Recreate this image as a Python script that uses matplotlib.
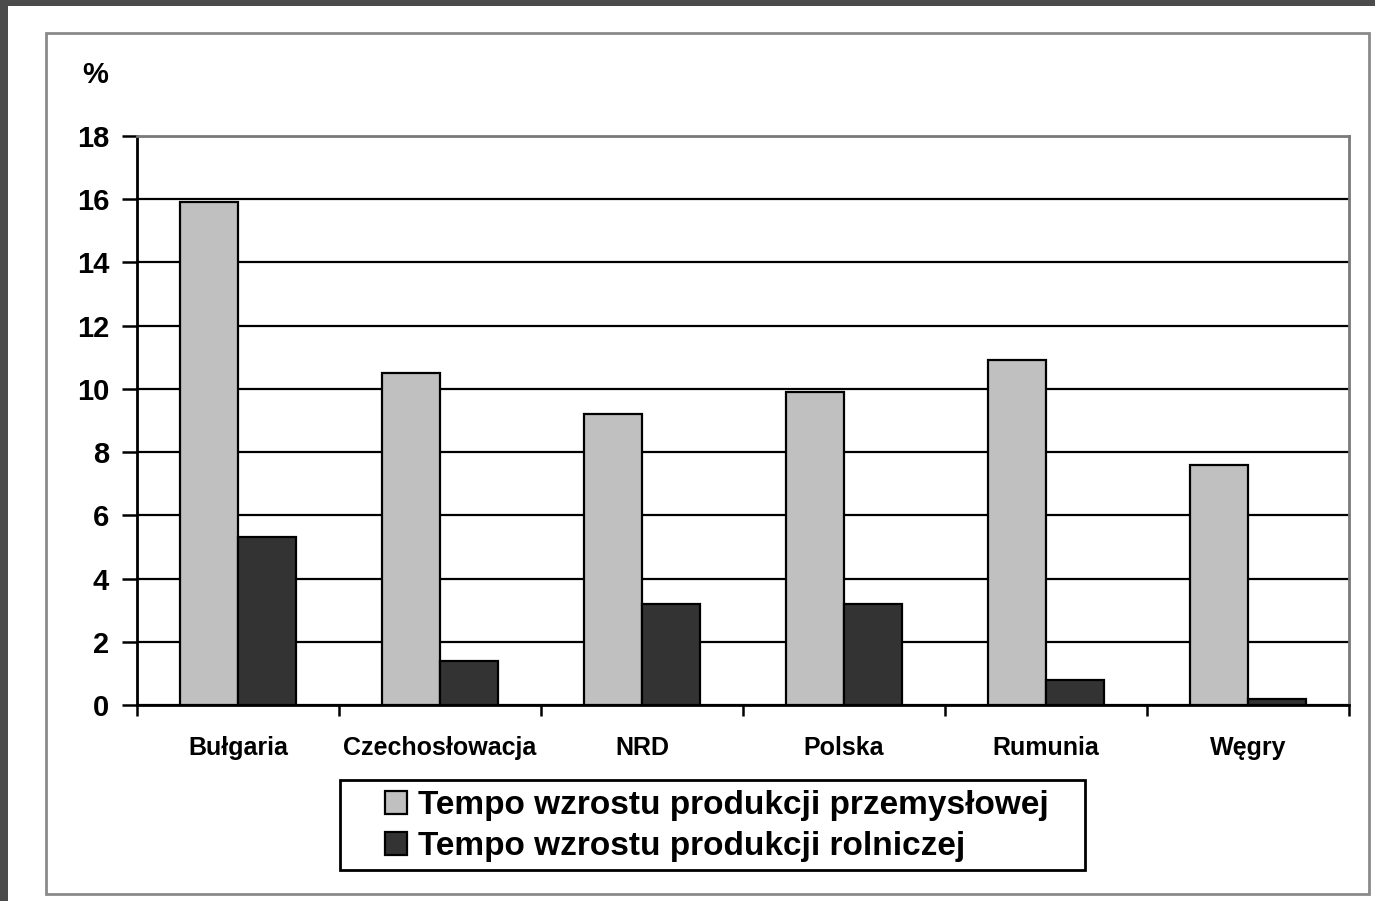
import numpy as np
import matplotlib.pyplot as plt
from matplotlib.patches import Rectangle

countries = ['Bułgaria', 'Czechosłowacja', 'NRD', 'Polska', 'Rumunia', 'Węgry']
industry = [15.9, 10.5, 9.2, 9.9, 10.9, 7.6]
agriculture = [5.3, 1.4, 3.2, 3.2, 0.8, 0.2]
yticks = [0, 2, 4, 6, 8, 10, 12, 14, 16, 18]
labels = ['Tempo wzrostu produkcji przemysłowej',
          'Tempo wzrostu produkcji rolniczej']

bold = ['Liberation Sans', 'DejaVu Sans']

fig = plt.figure(figsize=(13.75, 9.01), dpi=100, facecolor='#4b4b4b')

# white slide panel, chart frame and legend box
fig.patches.append(Rectangle((0.0058, 0), 1, 0.9933, transform=fig.transFigure,
                             facecolor='white', edgecolor='none', zorder=-2))
fig.patches.append(Rectangle((0.0335, 0.0078), 0.962, 0.9556, transform=fig.transFigure,
                             facecolor='none', edgecolor='#8a8a8a', lw=2, zorder=-1))
fig.patches.append(Rectangle((340 / 1375, 1 - 870 / 901), 745 / 1375, 90 / 901,
                             transform=fig.transFigure, facecolor='none',
                             edgecolor='black', lw=2, zorder=-1))

ax = fig.add_axes([0.0996, 0.2175, 0.8814, 0.6315])
ax.set_facecolor('white')

x = np.arange(len(countries))
w = 0.287
ax.bar(x - w / 2, industry, w, color='#c0c0c0', edgecolor='black', lw=1.6,
       label=labels[0], zorder=3)
ax.bar(x + w / 2, agriculture, w, color='#333333', edgecolor='black', lw=1.6,
       label=labels[1], zorder=3)

ax.set_xlim(-0.5, len(countries) - 0.5)
ax.set_ylim(0, 18)
ax.set_yticks(yticks)
ax.set_yticklabels([str(v) for v in yticks], fontsize=21, fontweight='bold', family=bold)
ax.tick_params(axis='y', length=11, width=1.8, pad=9, direction='out')

ax.set_xticks(x)
ax.set_xticklabels(countries, fontsize=18, fontweight='bold', family=bold)
ax.set_xticks(np.arange(-0.5, len(countries)), minor=True)
ax.tick_params(axis='x', which='major', length=0, pad=22)
ax.tick_params(axis='x', which='minor', length=8, width=1.8, direction='out')

ax.yaxis.grid(True, color='black', lw=1.6)
ax.set_axisbelow(True)
for side in ['left', 'bottom']:
    ax.spines[side].set_color('black')
    ax.spines[side].set_linewidth(2)
for side in ['top', 'right']:
    ax.spines[side].set_color('#7a7a7a')
    ax.spines[side].set_linewidth(2)

fig.text(0.069, 0.917, '%', fontsize=21, fontweight='bold', family=bold,
         ha='center', va='center')

fig.legend(loc='upper left', bbox_to_anchor=(385 / 1375, 1 - 790 / 901),
           prop={'family': bold, 'weight': 'bold', 'size': 24},
           frameon=False, handlelength=0.67, handleheight=0.67,
           handletextpad=0.33, borderpad=0, labelspacing=0.3, borderaxespad=0)

fig.savefig('out.png', dpi=100, facecolor=fig.get_facecolor())
